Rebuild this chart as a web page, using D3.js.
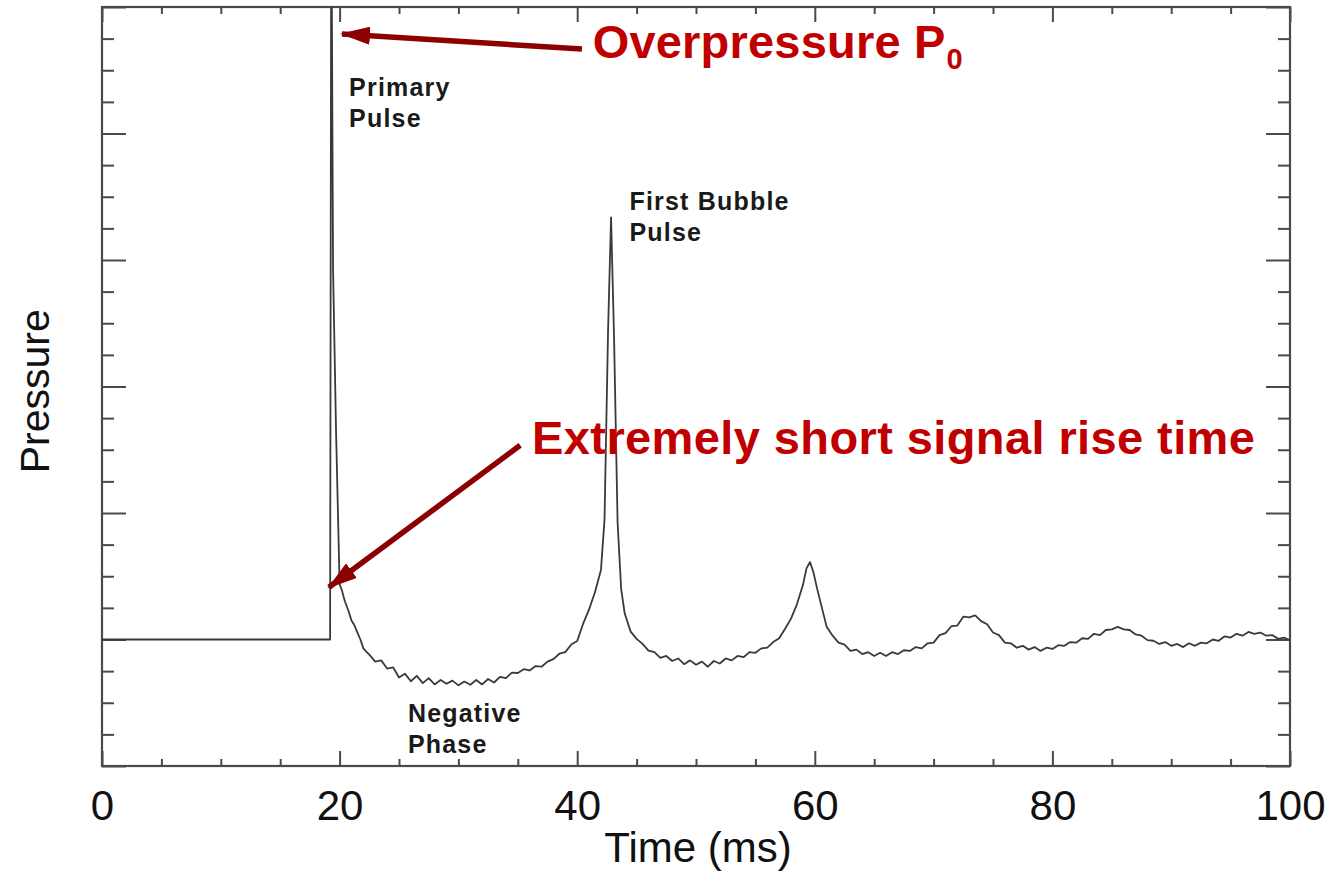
<!DOCTYPE html>
<html lang="en">
<head>
    <meta charset="UTF-8">
    <title>Underwater Explosion Pressure Signature</title>
    <script src="https://d3js.org/d3.v7.min.js"></script>
    <style>
        html, body { margin: 0; padding: 0; background: #fff; }
        svg { display: block; }
        text { font-family: "Liberation Sans", Arial, Helvetica, sans-serif; }
    </style>
</head>
<body>
<svg id="chart"></svg>
<script>
    // Axis ticks
    const xMajorTicks = [0, 20, 40, 60, 80, 100];
    const xMinorTicks = [5, 10, 15, 25, 30, 35, 45, 50, 55, 65, 70, 75, 85, 90, 95];
    const yMajorTicks = [-4, 0, 4, 8, 12, 16, 20];
    const yMinorTicks = [-3, -2, -1, 1, 2, 3, 5, 6, 7, 9, 10, 11, 13, 14, 15, 17, 18, 19];

    // Pressure trace, [time ms, pressure in tick units]
    const preShot = [[0, 0], [19.2, 0]];
    const primaryPulse = [
        [19.3, 24], [19.45, 11.7], [19.7, 6.6], [20.0, 1.75], [20.2, 1.55], [20.3, 1.4],
        [20.45, 1.2], [20.6, 1.05], [20.75, 0.9], [21.0, 0.6], [21.25, 0.45], [21.5, 0.22],
        [21.75, 0.0], [22.0, -0.28], [22.25, -0.38]
    ];
    const negativePhase = [
        [22.5, -0.48], [23.0, -0.70], [23.5, -0.66], [24.0, -0.92], [24.5, -0.88], [25.0, -1.20],
        [25.5, -1.08], [26.0, -1.32], [26.5, -1.15], [27.0, -1.38], [27.5, -1.22], [28.0, -1.42],
        [28.5, -1.28], [29.0, -1.40], [29.5, -1.30], [30.0, -1.45], [30.5, -1.33], [31.0, -1.43],
        [31.5, -1.28], [32.0, -1.42], [32.5, -1.25], [33.0, -1.36], [33.5, -1.18], [34.0, -1.22],
        [34.5, -1.05], [35.0, -1.06], [35.5, -0.94], [36.0, -0.98], [36.5, -0.84], [37.0, -0.86],
        [37.5, -0.70], [38.0, -0.62], [38.5, -0.45], [39.0, -0.40], [39.5, -0.16], [40.0, -0.05]
    ];
    const firstBubble = [
        [40.5, 0.5], [41.0, 0.95], [41.5, 1.5], [42.0, 2.2], [42.3, 3.8], [42.6, 9.8],
        [42.85, 13.35], [43.1, 9.6], [43.4, 3.7], [43.7, 1.6], [44.0, 0.82], [44.5, 0.25],
        [45.0, 0.02], [45.5, -0.14], [46.0, -0.35], [46.5, -0.40], [47.0, -0.58], [47.5, -0.52],
        [48.0, -0.68], [48.5, -0.60], [49.0, -0.78], [49.5, -0.66], [50.0, -0.80], [50.5, -0.70],
        [51.0, -0.86], [51.5, -0.68], [52.0, -0.76], [52.5, -0.60], [53.0, -0.66], [53.5, -0.52],
        [54.0, -0.56], [54.5, -0.40], [55.0, -0.42], [55.5, -0.28], [56.0, -0.26], [56.5, -0.08]
    ];
    const secondBubble = [
        [57.0, 0.04], [57.5, 0.34], [58.0, 0.66], [58.5, 1.12], [59.0, 1.72], [59.3, 2.25],
        [59.6, 2.45], [59.9, 2.1], [60.2, 1.6], [60.5, 1.15], [61.0, 0.4], [61.5, 0.12],
        [62.0, -0.10], [62.5, -0.16], [63.0, -0.36], [63.5, -0.32], [64.0, -0.46], [64.5, -0.40],
        [65.0, -0.52], [65.5, -0.42], [66.0, -0.52], [66.5, -0.40], [67.0, -0.46], [67.5, -0.34],
        [68.0, -0.36], [68.5, -0.24], [69.0, -0.28], [69.5, -0.12]
    ];
    const laterBubbles = [
        [70.0, -0.10], [70.5, 0.14], [71.0, 0.20], [71.5, 0.42], [72.0, 0.44], [72.5, 0.72],
        [73.0, 0.70], [73.5, 0.76], [74.0, 0.58], [74.5, 0.48], [75.0, 0.22], [75.5, 0.14],
        [76.0, -0.10], [76.5, -0.12], [77.0, -0.26], [77.5, -0.20], [78.0, -0.32], [78.5, -0.24],
        [79.0, -0.36], [79.5, -0.26], [80.0, -0.30], [80.5, -0.18], [81.0, -0.20], [81.5, -0.08],
        [82.0, -0.10], [82.5, 0.04], [83.0, 0.02], [83.5, 0.18], [84.0, 0.14], [84.5, 0.30],
        [85.0, 0.32], [85.5, 0.40], [86.0, 0.32], [86.5, 0.30], [87.0, 0.16], [87.5, 0.12],
        [88.0, -0.02], [88.5, -0.04], [89.0, -0.14], [89.5, -0.08], [90.0, -0.20], [90.5, -0.14],
        [91.0, -0.24], [91.5, -0.12], [92.0, -0.20], [92.5, -0.10], [93.0, -0.12], [93.5, 0.00],
        [94.0, -0.04], [94.5, 0.10], [95.0, 0.06], [95.5, 0.18], [96.0, 0.12], [96.5, 0.24],
        [97.0, 0.18], [97.5, 0.22], [98.0, 0.12], [98.5, 0.14], [99.0, 0.02], [99.5, 0.06],
        [100.0, -0.02]
    ];

    // Labels inside the plot, anchored in data units [time, pressure]
    const blackNotes = [
        { lines: ["Primary", "Pulse"], at: [20.8, 17.18] },
        { lines: ["First Bubble", "Pulse"], at: [44.4, 13.58] },
        { lines: ["Negative", "Phase"], at: [25.75, -2.6] }
    ];
    const redNotes = [
        { text: "Overpressure P", sub: "0", at: [41.3, 18.4], spacing: 0.2 },
        { text: "Extremely short signal rise time", sub: null, at: [36.2, 5.85], spacing: 0.4 }
    ];
    // arrows: from (tail) -> to (tip)
    const arrows = [
        { from: [40.4, 18.67], to: [20.2, 19.15] },
        { from: [35.2, 6.14], to: [19.1, 1.65] }
    ];

    const width = 1332, height = 874;
    const margin = { top: 7, right: 42, bottom: 108, left: 102 };
    const innerW = width - margin.left - margin.right;
    const innerH = height - margin.top - margin.bottom;

    const svg = d3.select('#chart').attr('width', width).attr('height', height);
    const g = svg.append('g').attr('transform', `translate(${margin.left},${margin.top})`);

    const x = d3.scaleLinear().domain([0, 100]).range([0, innerW]);
    const y = d3.scaleLinear().domain([-4, 20]).range([innerH, 0]);

    const axisColor = '#4a4a4a';

    // ticks (all pointing into the plot)
    function drawAxis(axis, transform) {
        const a = g.append('g').attr('transform', transform).call(axis);
        a.select('.domain').remove();
        a.selectAll('.tick line').attr('stroke', axisColor).attr('stroke-width', 2);
        return a;
    }

    const bottom = drawAxis(d3.axisBottom(x).tickValues(xMajorTicks).tickSize(-15).tickPadding(24)
        .tickFormat(d3.format('d')), `translate(0,${innerH})`);
    bottom.selectAll('.tick text')
        .attr('font-size', 42).attr('fill', '#111')
        .style('font-family', '"Liberation Sans", Arial, sans-serif');
    drawAxis(d3.axisBottom(x).tickValues(xMinorTicks).tickSize(-7).tickFormat(''), `translate(0,${innerH})`);
    drawAxis(d3.axisTop(x).tickValues(xMajorTicks).tickSize(-15).tickFormat(''), 'translate(0,0)');
    drawAxis(d3.axisTop(x).tickValues(xMinorTicks).tickSize(-7).tickFormat(''), 'translate(0,0)');
    drawAxis(d3.axisLeft(y).tickValues(yMajorTicks).tickSize(-24).tickFormat(''), 'translate(0,0)');
    drawAxis(d3.axisLeft(y).tickValues(yMinorTicks).tickSize(-12).tickFormat(''), 'translate(0,0)');
    drawAxis(d3.axisRight(y).tickValues(yMajorTicks).tickSize(-24).tickFormat(''), `translate(${innerW},0)`);
    drawAxis(d3.axisRight(y).tickValues(yMinorTicks).tickSize(-12).tickFormat(''), `translate(${innerW},0)`);

    // frame
    g.append('rect')
        .attr('width', innerW).attr('height', innerH)
        .attr('fill', 'none').attr('stroke', axisColor).attr('stroke-width', 2.2);

    // clip so the primary spike runs off the top of the frame
    svg.append('defs').append('clipPath').attr('id', 'plot-clip')
        .append('rect').attr('width', innerW).attr('height', innerH);

    const trace = [].concat(preShot, primaryPulse, negativePhase, firstBubble, secondBubble, laterBubbles);
    const line = d3.line().x(d => x(d[0])).y(d => y(d[1]));

    g.append('path')
        .datum(trace)
        .attr('clip-path', 'url(#plot-clip)')
        .attr('fill', 'none')
        .attr('stroke', '#3a3a3a')
        .attr('stroke-width', 1.8)
        .attr('stroke-linejoin', 'round')
        .attr('d', line);

    // black labels
    blackNotes.forEach(n => {
        const t = g.append('text')
            .attr('x', x(n.at[0])).attr('y', y(n.at[1]))
            .attr('font-size', 25).attr('font-weight', 'bold')
            .attr('letter-spacing', 1.2).attr('fill', '#1a1a1a');
        n.lines.forEach((s, i) => {
            t.append('tspan').attr('x', x(n.at[0])).attr('dy', i === 0 ? 0 : 31).text(s);
        });
    });

    // arrows
    const red = '#c00000';
    const arrowRed = '#8b0000';
    svg.select('defs').append('marker')
        .attr('id', 'head')
        .attr('viewBox', '0 0 30 18')
        .attr('refX', 28).attr('refY', 9)
        .attr('markerWidth', 30).attr('markerHeight', 18)
        .attr('markerUnits', 'userSpaceOnUse')
        .attr('orient', 'auto')
        .append('path')
        .attr('d', 'M0,0 L30,9 L0,18 Z')
        .attr('fill', arrowRed);

    arrows.forEach(a => {
        g.append('line')
            .attr('x1', x(a.from[0])).attr('y1', y(a.from[1]))
            .attr('x2', x(a.to[0])).attr('y2', y(a.to[1]))
            .attr('stroke', arrowRed).attr('stroke-width', 5.5)
            .attr('marker-end', 'url(#head)');
    });

    // red labels
    redNotes.forEach(n => {
        const t = g.append('text')
            .attr('x', x(n.at[0])).attr('y', y(n.at[1]))
            .attr('font-size', 47).attr('font-weight', 'bold').attr('fill', red)
            .attr('letter-spacing', n.spacing)
            .text(n.text);
        if (n.sub) {
            t.append('tspan').attr('dx', 1).attr('dy', 11).attr('font-size', 29).text(n.sub);
        }
    });

    // axis titles
    svg.append('text')
        .attr('x', margin.left + innerW / 2 + 2).attr('y', 862)
        .attr('text-anchor', 'middle').attr('font-size', 42).attr('fill', '#111')
        .text('Time (ms)');
    svg.append('text')
        .attr('transform', `translate(49,${margin.top + y(7.85)}) rotate(-90)`)
        .attr('text-anchor', 'middle').attr('font-size', 41).attr('fill', '#111')
        .text('Pressure');
</script>
</body>
</html>
